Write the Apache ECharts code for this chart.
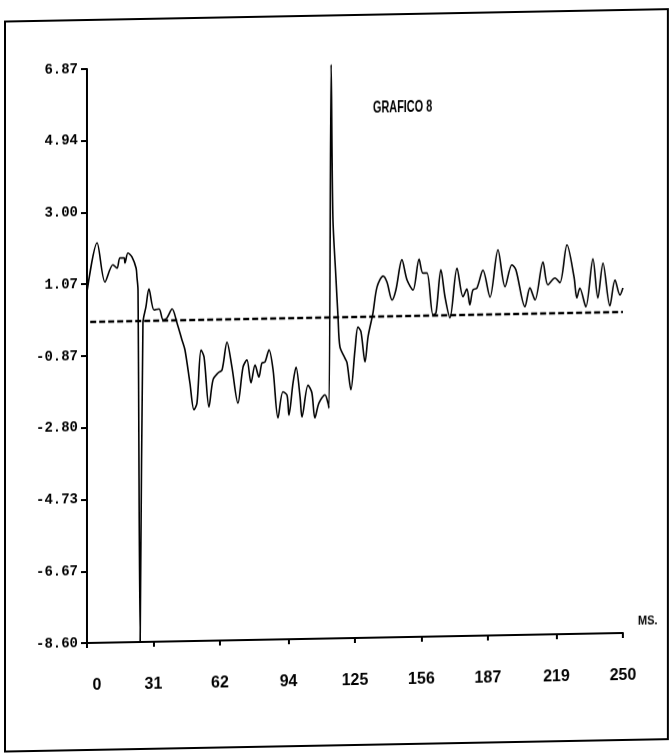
<!DOCTYPE html>
<html>
<head>
<meta charset="utf-8">
<script src="https://cdn.jsdelivr.net/npm/echarts@6/dist/echarts.min.js"></script>
<style>
  html, body { margin: 0; padding: 0; background: #ffffff; }
  #chart {
    width: 671px; height: 754px;
    /* plotter sheet sits slightly askew */
    transform: skewY(-1.07deg);
    transform-origin: 87px 643px;
  }
</style>
</head>
<body>
<div id="chart"></div>
<script>
// Signal trace (time in ms, amplitude)
const timeMs = [
  0, 4.7, 8.4, 12.1, 14.0, 15.4, 17.3, 17.7, 19.1, 21.0, 22.9, 23.3, 23.8, 24.8, 26.1,
  27.5, 28.9, 31.3, 33.6, 35.5, 37.3, 39.7, 42.0, 44.3, 45.7, 48.0, 49.9, 51.3, 53.2,
  54.6, 56.9, 58.8, 61.1, 63.0, 65.3, 67.6, 70.4, 72.8, 74.6, 76.5, 78.4, 80.2, 81.6,
  83.0, 84.9, 86.8, 89.1, 91.4, 93.3, 94.2, 96.1, 97.5, 99.4, 100.3, 103.1, 104.9,
  106.3, 108.2, 111.0, 112.4, 112.9, 113.9, 114.7, 116.1, 117.1, 118.0, 120.3, 121.3,
  123.1, 125.0, 126.4, 127.8, 129.7, 131.1, 133.4, 135.3, 138.1, 139.9, 142.3, 144.1,
  146.9, 149.3, 152.1, 154.9, 156.7, 158.6, 161.4, 162.8, 165.1, 167.0, 169.3, 172.6,
  175.4, 177.2, 178.6, 180.0, 181.9, 184.7, 188.0, 191.7, 195.0, 198.2, 200.1, 204.3,
  206.6, 209.0, 212.7, 215.0, 218.3, 220.6, 223.9, 227.2, 228.5, 229.9, 232.7, 236.0,
  238.3, 240.7, 243.9, 246.3, 248.6, 250
];
const amplitude = [
  0.86, 2.18, 1.12, 1.58, 1.49, 1.76, 1.76, 1.62, 1.89, 1.78, 1.48, 1.24, 0.89, -8.60, 0.00,
  0.43, 0.91, 0.34, 0.37, 0.07, 0.12, 0.36, -0.02, -0.48, -0.75, -1.64, -2.37, -2.19, -0.76,
  -0.95, -2.30, -1.57, -1.39, -1.31, -0.56, -1.23, -2.21, -1.24, -1.05, -1.67, -1.19, -1.52, -1.14,
  -1.12, -0.79, -1.33, -2.63, -1.93, -2.02, -2.56, -1.70, -1.27, -2.08, -2.62, -1.76, -1.97,
  -2.65, -2.25, -2.03, -2.25, -2.39, 6.87, 2.76, 1.14, 0.06, -0.75, -1.05, -1.18,
  -1.91, -0.84, -0.22, -0.35, -1.17, -0.49, 0.15, 0.85, 1.14, 0.98, 0.49, 0.76,
  1.57, 1.02, 0.75, 1.58, 1.20, 1.20, 0.07, 0.12, 1.28, 0.55, -0.02, 1.32,
  0.54, 0.75, 0.32, 0.72, 0.77, 1.25, 0.52, 1.79, 0.79, 1.38, 1.24, 0.24,
  0.75, 0.42, 1.44, 0.82, 1.00, 0.87, 1.89, 1.02, 0.45, 0.72, 0.21, 1.50,
  0.44, 1.38, 0.22, 0.92, 0.51, 0.70
];
// Mean level (dashed reference)
const meanTime = [1.5, 250];
const meanLevel = [0.05, 0.05];

// Axis tick labels
const xTickLabels = ['0', '31', '62', '94', '125', '156', '187', '219', '250'];
const yTickLabels = ['-8.60', '-6.67', '-4.73', '-2.80', '-0.87', '1.07', '3.00', '4.94', '6.87'];

const xTickValues = xTickLabels.map(Number);
const yTickValues = yTickLabels.map(Number);

const traceData = timeMs.map((t, i) => [t, amplitude[i]]);
const meanData = meanTime.map((t, i) => [t, meanLevel[i]]);

const chart = echarts.init(document.getElementById('chart'), null, { renderer: 'canvas' });

const sans = "'Liberation Sans', Arial, sans-serif";
const mono = "'Liberation Mono', 'DejaVu Sans Mono', monospace";

chart.setOption({
  animation: false,
  backgroundColor: '#ffffff',
  grid: { left: 87, right: 48, top: 69, bottom: 111, containLabel: false },
  xAxis: {
    type: 'value',
    min: 0,
    max: 250,
    splitLine: { show: false },
    axisLine: { show: true, onZero: false, lineStyle: { color: '#000', width: 2 } },
    axisTick: { show: true, length: 5, customValues: xTickValues, lineStyle: { color: '#000', width: 2 } },
    axisLabel: {
      customValues: xTickValues,
      // the origin label sits a little right of its tick
      formatter: v => {
        const s = xTickLabels[xTickValues.indexOf(v)] ?? String(v);
        return v === 0 ? '{first|' + s + '}' : s;
      },
      rich: {
        first: { padding: [0, 0, 0, 20], fontFamily: sans, fontWeight: 'bold', fontSize: 16, color: '#000' }
      },
      margin: 35,
      color: '#000',
      fontFamily: sans,
      fontWeight: 'bold',
      fontSize: 16
    }
  },
  yAxis: {
    type: 'value',
    min: -8.60,
    max: 6.87,
    splitLine: { show: false },
    axisLine: { show: true, onZero: false, lineStyle: { color: '#000', width: 2 } },
    axisTick: { show: true, length: 6, customValues: yTickValues, lineStyle: { color: '#000', width: 2 } },
    axisLabel: {
      customValues: yTickValues,
      formatter: v => yTickLabels[yTickValues.indexOf(v)] ?? v.toFixed(2),
      margin: 9,
      color: '#000',
      fontFamily: mono,
      fontWeight: 'bold',
      fontSize: 14
    }
  },
  series: [
    {
      name: 'trace',
      type: 'line',
      data: traceData,
      showSymbol: false,
      smooth: 0.3,
      lineStyle: { color: '#000', width: 1.6 },
      z: 3
    },
    {
      name: 'mean',
      type: 'line',
      data: meanData,
      showSymbol: false,
      lineStyle: { color: '#000', width: 2.4, type: [6, 3] },
      z: 2
    }
  ],
  graphic: [
    {
      type: 'rect',
      shape: { x: 5, y: 20, width: 663, height: 730 },
      style: { fill: 'none', stroke: '#000', lineWidth: 2 },
      silent: true
    },
    {
      type: 'text',
      x: 373, y: 105,
      scaleX: 0.64,
      style: { text: 'GRAFICO 8', fill: '#000', font: 'bold 17px ' + sans }
    },
    {
      type: 'text',
      x: 638, y: 625,
      scaleX: 0.85,
      style: { text: 'MS.', fill: '#000', font: 'bold 13px ' + sans }
    }
  ]
});
</script>
</body>
</html>
